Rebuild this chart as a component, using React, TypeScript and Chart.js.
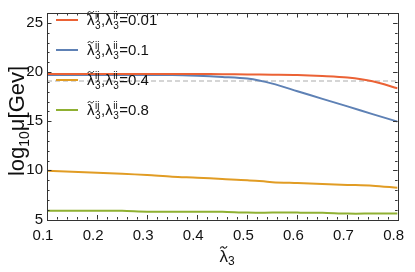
import React, { useEffect, useRef } from "react";
import { Chart, registerables } from "chart.js";

Chart.register(...registerables);

const xValues = [0.1, 0.15, 0.2, 0.25, 0.3, 0.35, 0.4, 0.45, 0.5, 0.55, 0.6, 0.65, 0.7, 0.75, 0.8];
const series001 = [19.8, 19.8, 19.8, 19.8, 19.8, 19.8, 19.8, 19.78, 19.75, 19.73, 19.7, 19.6, 19.44, 19.06, 18.35];
const series01 = [19.7, 19.7, 19.7, 19.7, 19.7, 19.7, 19.62, 19.5, 19.33, 18.82, 18.05, 17.27, 16.5, 15.72, 14.95];
const series04 = [9.95, 9.85, 9.75, 9.65, 9.52, 9.35, 9.25, 9.12, 9.0, 8.8, 8.7, 8.6, 8.52, 8.44, 8.22];
const series08 = [5.9, 5.9, 5.9, 5.88, 5.8, 5.8, 5.8, 5.79, 5.7, 5.7, 5.7, 5.68, 5.6, 5.6, 5.6];
const planckX = [0.1, 0.8];
const planckY = [19.09, 19.09];

const legendValues = ["0.01", "0.1", "0.4", "0.8"];
const colors = ["#EB6235", "#5E81B5", "#E19C24", "#8FB032"];
const xTicks = [0.1, 0.2, 0.3, 0.4, 0.5, 0.6, 0.7, 0.8];
const yTicks = [5, 10, 15, 20, 25];

const FONT = "'Liberation Sans', Arial, sans-serif";

type Part = { t: string; size: number; dy?: number; sub?: string; tilde?: boolean; gap?: number };

function partWidth(ctx: CanvasRenderingContext2D, p: Part) {
  ctx.font = `${p.size}px ${FONT}`;
  let pw = ctx.measureText(p.t).width;
  if (p.sub !== undefined) pw = Math.max(pw, ctx.measureText(p.sub).width);
  return pw + (p.gap || 0);
}

function measureParts(ctx: CanvasRenderingContext2D, parts: Part[]) {
  let w = 0;
  for (const p of parts) w += partWidth(ctx, p);
  return w;
}

function drawParts(ctx: CanvasRenderingContext2D, x: number, y: number, parts: Part[], mainSize = 14) {
  let cx = x;
  for (const p of parts) {
    ctx.font = `${p.size}px ${FONT}`;
    const w = partWidth(ctx, p);
    if (p.sub !== undefined) {
      ctx.fillText(p.t, cx, y - mainSize * 0.42);
      ctx.fillText(p.sub, cx, y + p.size * 0.38);
    } else {
      ctx.fillText(p.t, cx, y + (p.dy || 0));
      if (p.tilde) {
        const tw = ctx.measureText(p.t).width;
        const mx = cx + tw * 0.5;
        const ty = y - p.size * 0.86;
        const hw = p.size * 0.2;
        const a = p.size * 0.06;
        ctx.save();
        ctx.strokeStyle = ctx.fillStyle as string;
        ctx.lineWidth = Math.max(0.9, p.size * 0.065);
        ctx.beginPath();
        ctx.moveTo(mx - hw, ty + a);
        ctx.bezierCurveTo(mx - hw * 0.5, ty - a * 2.2, mx, ty + a * 0.3, mx + 0, ty + a * 0.2);
        ctx.bezierCurveTo(mx + 0, ty + a * 0.2, mx + hw * 0.5, ty + a * 2.2, mx + hw, ty - a);
        ctx.stroke();
        ctx.restore();
      }
    }
    cx += w;
  }
}

const customPlugin = {
  id: "customFrame",
  afterDraw(chart: any) {
    const ctx: CanvasRenderingContext2D = chart.ctx;
    const { left, right, top, bottom } = chart.chartArea;
    const xs = chart.scales.x;
    const ys = chart.scales.y;
    ctx.save();
    ctx.strokeStyle = "#333";
    ctx.lineWidth = 1;
    ctx.strokeRect(Math.round(left) + 0.5, Math.round(top) + 0.5, Math.round(right - left), Math.round(bottom - top));
    ctx.beginPath();
    for (let i = 0; i <= 35; i++) {
      const v = 0.1 + i * 0.02;
      const px = Math.round(xs.getPixelForValue(v)) + 0.5;
      const len = i % 5 === 0 ? 4.5 : 2.5;
      ctx.moveTo(px, bottom);
      ctx.lineTo(px, bottom - len);
      ctx.moveTo(px, top);
      ctx.lineTo(px, top + len);
    }
    for (let v = 5; v <= 26; v++) {
      const py = Math.round(ys.getPixelForValue(v)) + 0.5;
      const len = v % 5 === 0 ? 4.5 : 2.5;
      ctx.moveTo(left, py);
      ctx.lineTo(left + len, py);
      ctx.moveTo(right, py);
      ctx.lineTo(right - len, py);
    }
    ctx.stroke();

    ctx.fillStyle = "#111";
    ctx.textBaseline = "alphabetic";
    ctx.textAlign = "left";
    legendValues.forEach((val, i) => {
      const yc = 20 + i * 30;
      ctx.strokeStyle = colors[i];
      ctx.lineWidth = 2;
      ctx.beginPath();
      ctx.moveTo(56, yc);
      ctx.lineTo(78, yc);
      ctx.stroke();
      drawParts(
        ctx,
        87,
        yc + 5,
        [
          { t: "λ", size: 15, tilde: true, gap: 0.5 },
          { t: "ij", size: 10, sub: "3", gap: 0.5 },
          { t: ",", size: 15 },
          { t: "λ", size: 15, gap: 0.5 },
          { t: "ii", size: 10, sub: "3", gap: 0.5 },
          { t: "=" + val, size: 15 },
        ],
        15
      );
    });

    const xParts: Part[] = [
      { t: "λ", size: 17, tilde: true },
      { t: "3", size: 12, dy: 3 },
    ];
    const xw = measureParts(ctx, xParts);
    drawParts(ctx, 227 - xw / 2, 262, xParts, 17);

    ctx.save();
    ctx.translate(24, 121);
    ctx.rotate(-Math.PI / 2);
    const yParts: Part[] = [
      { t: "log", size: 22 },
      { t: "10", size: 14, dy: 5 },
      { t: "μ[Gev]", size: 22 },
    ];
    const yw = measureParts(ctx, yParts);
    drawParts(ctx, -yw / 2, 0, yParts, 22);
    ctx.restore();
    ctx.restore();
  },
};

export default function App() {
  const ref = useRef<HTMLCanvasElement>(null);
  useEffect(() => {
    if (!ref.current) return;
    const mk = (ys: number[]) => xValues.map((x, i) => ({ x, y: ys[i] }));
    const allSeries = [series001, series01, series04, series08];
    const datasets: any[] = allSeries.map((s, i) => ({
      label: legendValues[i],
      data: mk(s),
      borderColor: colors[i],
      borderWidth: 2,
      pointRadius: 0,
      tension: 0.3,
      fill: false,
    }));
    datasets.push({
      label: "planck",
      data: planckX.map((x, i) => ({ x, y: planckY[i] })),
      borderColor: "#C8C8C8",
      borderWidth: 1.5,
      borderDash: [5, 3],
      pointRadius: 0,
      fill: false,
    });
    const chart = new Chart(ref.current, {
      type: "line",
      data: { datasets },
      plugins: [customPlugin],
      options: {
        animation: false,
        responsive: false,
        layout: { padding: { top: 2, right: 11, left: 0, bottom: 0 } },
        plugins: { legend: { display: false }, tooltip: { enabled: false } },
        scales: {
          x: {
            type: "linear",
            min: 0.1,
            max: 0.8,
            afterBuildTicks: (s: any) => {
              s.ticks = xTicks.map((v) => ({ value: v }));
            },
            afterFit: (s: any) => {
              s.height = 52.5;
            },
            grid: { display: false, drawTicks: false },
            border: { display: false },
            ticks: {
              autoSkip: false,
              maxRotation: 0,
              padding: 7,
              labelOffset: -4,
              color: "#111",
              font: { family: FONT, size: 15 },
              callback: (v: any) => Number(v).toFixed(1),
            },
          },
          y: {
            type: "linear",
            min: 5,
            max: 26,
            afterBuildTicks: (s: any) => {
              s.ticks = yTicks.map((v) => ({ value: v }));
            },
            afterFit: (s: any) => {
              s.width = 47;
            },
            grid: { display: false, drawTicks: false },
            border: { display: false },
            ticks: {
              padding: 4,
              color: "#111",
              font: { family: FONT, size: 15 },
            },
          },
        },
      },
    });
    return () => chart.destroy();
  }, []);
  return (
    <div style={{ position: "fixed", left: 0, top: 0, width: 415, height: 272, background: "#fff" }}>
      <canvas ref={ref} width={415} height={272} />
    </div>
  );
}
